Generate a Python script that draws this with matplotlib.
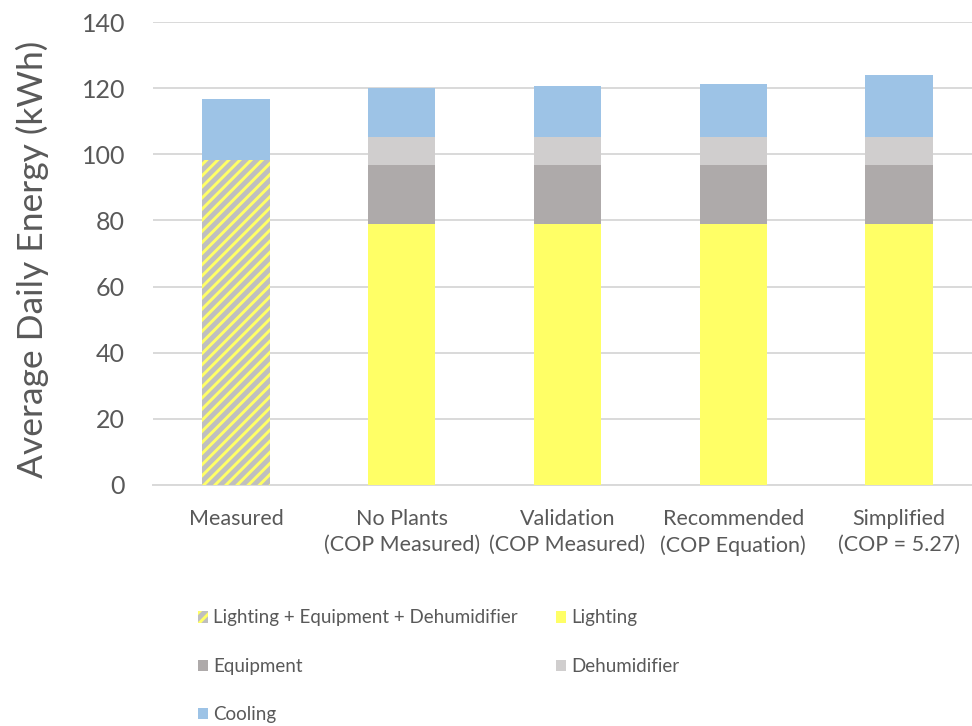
import matplotlib
matplotlib.use("Agg")
import matplotlib.pyplot as plt
from matplotlib.patches import Patch

plt.rcParams["font.family"] = ["Lato", "DejaVu Sans"]
plt.rcParams["hatch.linewidth"] = 2.1

scenarios = ["Measured", "No Plants\n(COP Measured)", "Validation\n(COP Measured)",
             "Recommended\n(COP Equation)", "Simplified\n(COP = 5.27)"]

# measured case only has the combined non-cooling load
combined = [98.3, 0, 0, 0, 0]
lighting = [0, 78.9, 78.9, 78.9, 78.9]
equipment = [0, 17.9, 17.9, 17.9, 17.9]
dehumidifier = [0, 8.3, 8.3, 8.3, 8.3]
cooling = [18.4, 14.9, 15.6, 16.2, 18.9]

c_light = "#FFFF66"
c_equip = "#AEAAAA"
c_dehum = "#D0CECE"
c_cool = "#9DC3E6"
c_hatch_bg = "#BFBFBF"
txt = "#595959"

fig = plt.figure(figsize=(9.72, 7.26), dpi=100)
ax = fig.add_axes([153 / 972, 1 - 485 / 726, 829 / 972, 463 / 726])

x = range(len(scenarios))
w = 0.406
ax.bar(x, combined, w, color=c_hatch_bg, edgecolor=c_light, linewidth=0, hatch="///", zorder=3)
bottom = [0] * len(scenarios)
for vals, col in [(lighting, c_light), (equipment, c_equip), (dehumidifier, c_dehum)]:
    ax.bar(x, vals, w, bottom=bottom, color=col, linewidth=0, zorder=3)
    bottom = [b + v for b, v in zip(bottom, vals)]
bottom = [b + c for b, c in zip(bottom, combined)]
ax.bar(x, cooling, w, bottom=bottom, color=c_cool, linewidth=0, zorder=3)

ax.set_xlim(-0.5, 4.5)
ax.set_ylim(0, 140)
ax.set_yticks(range(0, 141, 20))
ax.set_xticks(list(x))
ax.set_xticklabels(scenarios, fontsize=15.5, color=txt, linespacing=1.4)
ax.tick_params(axis="y", length=0, pad=20, labelsize=18, labelcolor=txt)
ax.tick_params(axis="x", length=0, pad=17)
ax.grid(axis="y", color="#D9D9D9", linewidth=1.4, zorder=0)
for s in ["top", "right", "left"]:
    ax.spines[s].set_visible(False)
ax.spines["bottom"].set_color("#D9D9D9")
ax.spines["bottom"].set_linewidth(1.4)
ax.set_ylabel("Average Daily Energy (kWh)", fontsize=25.5, color=txt)
ax.yaxis.set_label_coords(-104 / 829, 0.5 - 5.5 / 463)

handles = [
    Patch(facecolor=c_hatch_bg, edgecolor=c_light, linewidth=0, hatch="///",
          label="Lighting + Equipment + Dehumidifier"),
    Patch(facecolor=c_equip, label="Equipment"),
    Patch(facecolor=c_cool, label="Cooling"),
    Patch(facecolor=c_light, label="Lighting"),
    Patch(facecolor=c_dehum, label="Dehumidifier"),
]
leg = fig.legend(handles=handles, ncol=2, loc="upper left", bbox_to_anchor=(190 / 972, 1 - 602 / 726),
                 frameon=False, fontsize=13.5, handlelength=0.55, handleheight=0.55,
                 handletextpad=0.3, columnspacing=2.0, labelspacing=1.67, borderaxespad=0)
for t in leg.get_texts():
    t.set_color(txt)

fig.savefig("out.png", dpi=100)
